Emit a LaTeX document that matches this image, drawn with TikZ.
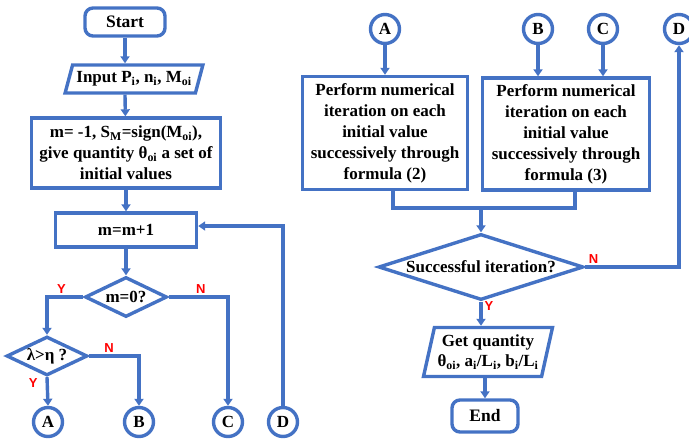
\documentclass[tikz,border=0pt]{standalone}
\usepackage{fontspec}
\setmainfont{Liberation Serif}
\newfontfamily\ynfont{Liberation Sans}
\usetikzlibrary{arrows.meta,shapes.geometric}
\definecolor{fcBlue}{HTML}{4472C4}
\definecolor{fcRed}{HTML}{FF0000}
\tikzset{
  % Start / End box
  tbox/.style={rectangle,rounded corners=8pt,draw=fcBlue,line width=3.4pt,
    fill=white,minimum width=80pt,minimum height=28pt,inner sep=2pt,
    font=\fontsize{17.5}{20}\selectfont\bfseries},
  % Input / output box
  iobox/.style={trapezium,trapezium left angle=67,trapezium right angle=113,
    trapezium stretches=true,draw=fcBlue,line width=3.4pt,fill=white,
    inner sep=1pt,align=center,
    font=\fontsize{17}{20}\selectfont\bfseries},
  % Process box
  pbox/.style={rectangle,draw=fcBlue,line width=3.4pt,fill=white,
    inner sep=1pt,align=center,
    font=\fontsize{17}{21}\selectfont\bfseries},
  % Decision
  dbox/.style={diamond,aspect=2,draw=fcBlue,line width=3.4pt,fill=white,
    inner sep=0pt,align=center,
    font=\fontsize{17}{20}\selectfont\bfseries},
  % Connector circle
  conn/.style={circle,draw=fcBlue,line width=3.4pt,fill=white,
    minimum size=29pt,inner sep=0pt,
    font=\fontsize{17}{20}\selectfont\bfseries},
  % Lines
  arr/.style={-{Triangle[width=9pt,length=7pt]},line width=3.4pt,color=fcBlue},
  ln/.style={line width=3.4pt,color=fcBlue},
  yn/.style={font=\ynfont\fontsize{13}{15}\selectfont\bfseries,text=fcRed,
    inner sep=2pt},
}
\begin{document}
\begin{tikzpicture}[x=1pt,y=-1pt]
  \useasboundingbox (0,0) rectangle (689,440);

  % left column
  \node[tbox] (start) at (125,22) {Start};
  \node[iobox,minimum width=138pt,minimum height=28pt] (inp) at (134,79)
    {Input P\textsubscript{i}, n\textsubscript{i}, M\textsubscript{oi}};
  \node[pbox,minimum width=189pt,minimum height=70pt] (init) at (126,153)
    {m= -1, S\textsubscript{M}=sign(M\textsubscript{oi}),\\
     give quantity θ\textsubscript{oi} a set of\\initial values};
  \node[pbox,minimum width=141pt,minimum height=34pt] (loop) at (126,230)
    {m=m+1};
  \node[dbox,minimum width=82pt,minimum height=40pt] (chk0) at (126,297)
    {m=0?};
  \node[dbox,minimum width=81pt,minimum height=39pt] (lam) at (47,356)
    {λ>η ?};

  \node[conn] (lA) at (48,422) {A};
  \node[conn] (lB) at (139,422) {B};
  \node[conn] (lC) at (228,422) {C};
  \node[conn] (lD) at (283,422) {D};

  \draw[arr] (start) -- (start|-inp.north);
  \draw[arr] (start|-inp.south) -- (init);
  \draw[arr] (init) -- (loop);
  \draw[arr] (loop) -- (chk0);
  \draw[arr] (chk0.west) -| node[yn,pos=0.3,above] {Y} (lam.north);
  \draw[arr] (chk0.east) -| node[yn,pos=0.27,above] {N} (lC.north);
  \draw[arr] (lam.east) -| node[yn,pos=0.2,above] {N} (lB.north);
  \draw[arr] (lam.south) -- node[yn,pos=0.2,left=6pt] {Y} (lA.north);
  \draw[arr] (lD.north) |- ([yshift=4pt]loop.east);

  % right column
  \node[conn] (rA) at (385,29) {A};
  \node[conn] (rB) at (538,29) {B};
  \node[conn] (rC) at (603,29) {C};
  \node[conn] (rD) at (679,29) {D};

  \node[pbox,minimum width=165pt,minimum height=113pt] (it2) at (385,133)
    {Perform numerical\\iteration on each\\initial value\\
     successively through\\formula (2)};
  \node[pbox,minimum width=167pt,minimum height=112pt] (it3) at (566,134)
    {Perform numerical\\iteration on each\\initial value\\
     successively through\\formula (3)};
  \coordinate (join) at (481,208);
  \node[dbox,aspect=3,minimum width=205pt,minimum height=66pt] (succ)
    at (481,267) {Successful iteration?};
  \node[iobox,trapezium left angle=74,trapezium right angle=106,
    minimum width=129pt,minimum height=49pt] (get) at (488,352)
    {Get quantity\\θ\textsubscript{oi}, a\textsubscript{i}/L\textsubscript{i},
     b\textsubscript{i}/L\textsubscript{i}};
  \node[tbox,minimum width=66pt,minimum height=32pt] (end) at (485,416) {End};

  \draw[arr] (rA) -- (rA|-it2.north);
  \draw[arr] (rB) -- (rB|-it3.north);
  \draw[arr] (rC) -- (rC|-it3.north);
  \draw[ln] ([xshift=8pt]it2.south) |- (join) -| ([xshift=9pt]it3.south);
  \draw[arr] (join) -- (succ.north);
  \draw[arr] (succ.east) -| node[yn,pos=0,above right] {N} (rD.south);
  \draw[arr] (succ.south) -- node[yn,pos=0.2,right] {Y} (succ|-get.north);
  \draw[arr] (end|-get.south) -- (end.north);
\end{tikzpicture}
\end{document}
